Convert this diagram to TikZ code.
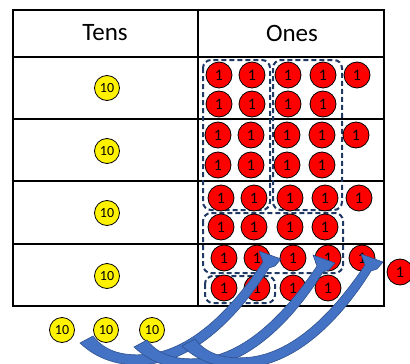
\documentclass[tikz,border=0pt]{standalone}
\usepackage{fontspec}
\setmainfont{Carlito}
\usetikzlibrary{positioning}

\definecolor{coinred}{RGB}{255,0,0}
\definecolor{groupnavy}{RGB}{31,56,100}
\definecolor{arrowblue}{RGB}{68,114,196}
\definecolor{arrowedge}{RGB}{47,82,143}

\begin{document}
\begin{tikzpicture}[x=1pt, y=-1pt,
  one/.style={circle, draw=black, line width=0.8pt, fill=coinred, minimum size=26pt, inner sep=0pt, font=\fontsize{16}{16}\selectfont},
  ten/.style={circle, draw=black, line width=0.8pt, fill=yellow, minimum size=25pt, inner sep=0pt, font=\fontsize{14}{14}\selectfont},
  group/.style={draw=groupnavy, line width=2pt, dash pattern=on 5pt off 3pt, rounded corners=8pt},
  grid/.style={line width=2.2pt},
  swaparrow/.style={fill=arrowblue, draw=arrowedge, line width=0.6pt}]
  \useasboundingbox (0,0) rectangle (410,364);
  % place value chart
  \draw[grid] (13,10) rectangle (384,306);
  \draw[grid] (198,10) -- (198,306);
  \foreach \y in {57,119,181,244}
    \draw[grid] (13,\y) -- (384,\y);
  \node[font=\fontsize{25}{25}\selectfont] (tens) at (105,33) {Tens};
  \node[font=\fontsize{25}{25}\selectfont] (ones) at (292,33) {Ones};
  % tens counters
  \foreach \y [count=\i] in {88,151,213,276}
    \node[ten] (t\i) at (107,\y) {10};
  \foreach \x [count=\i] in {62,106,152}
    \node[ten] (x\i) at (\x,330) {10};
  % groups of ten (dashed)
  \draw[group] (203,60) rectangle (270,210);
  \draw[group] (273,60) rectangle (342,210);
  \draw[group] (203,213) rectangle (343,273);
  \draw[group] (205,276) rectangle (275,303);
  % ones counters
  \foreach \y/\dx [count=\r] in {75/1,104/1,135/0,165/0,198/3,227/3,258/6,288/6}
    \foreach \x [count=\c] in {218,251,287,322}
      \node[one] (o\r-\c) at (\x+\dx,\y) {1};
  \foreach \y/\dx [count=\r] in {75/1,135/0,198/3,258/6}
    \node[one] (e\r) at (356+\dx,\y) {1};
  \node[one] (e5) at (400,272) {1};
  % exchange arrows
  \foreach \dx/\dy in {0/0,54/4,102/3}{
    \begin{scope}[shift={(\dx,\dy)}]
      \draw[swaparrow] (80,343) .. controls (100,362) and (125,367) .. (150,364)
        .. controls (205,357) and (248,302) .. (269,268)
        -- (275,266) -- (281,259) -- (259,251) -- (263,262)
        .. controls (240,296) and (200,347) .. (150,354)
        .. controls (125,357) and (105,352) .. (93,336) -- cycle;
    \end{scope}
  }
\end{tikzpicture}
\end{document}
